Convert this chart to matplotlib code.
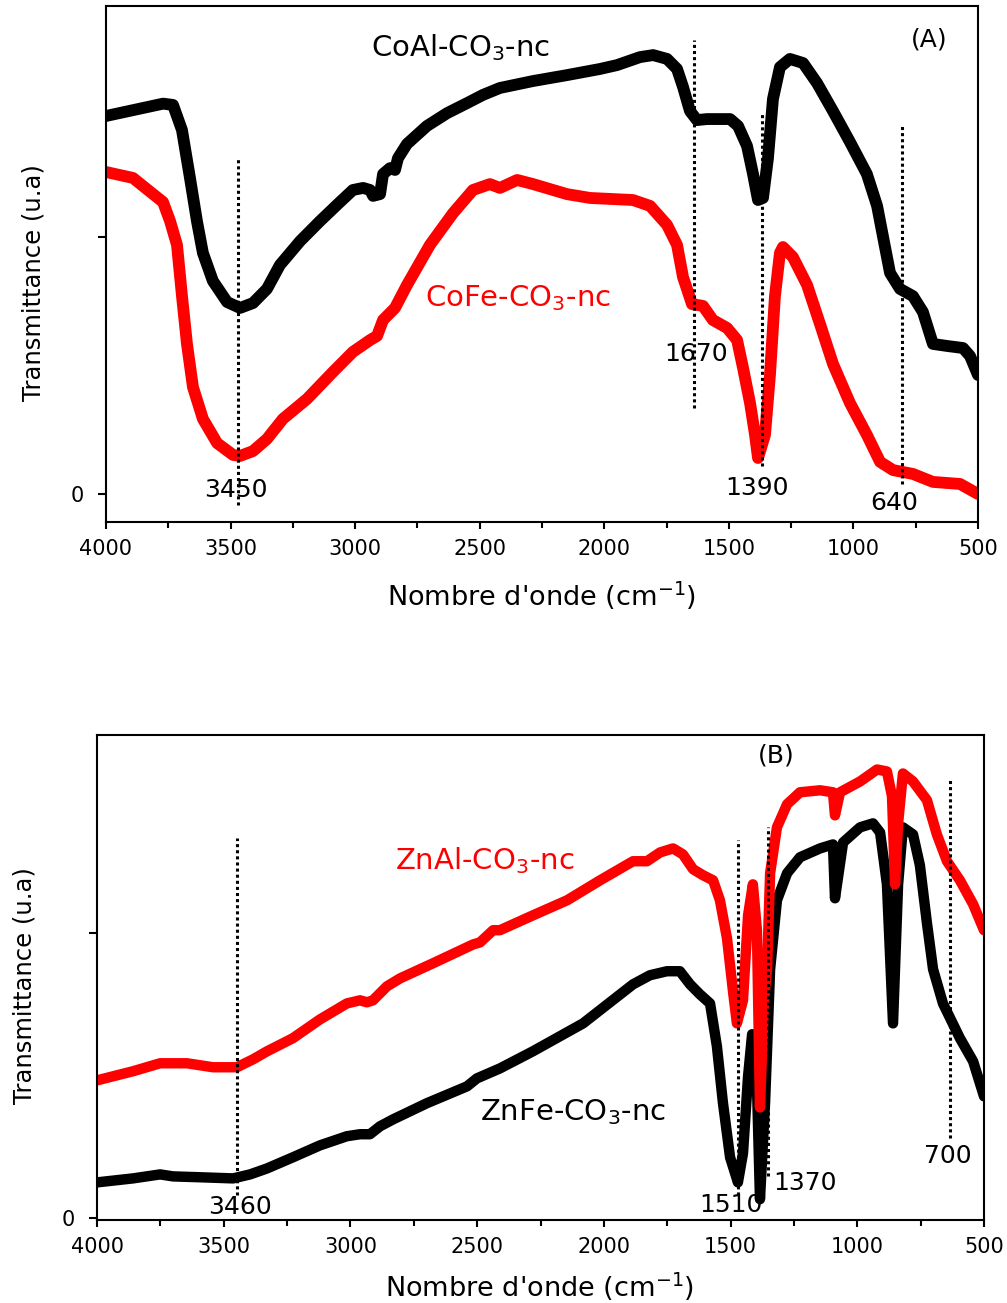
import matplotlib
matplotlib.use("Agg")
import matplotlib.pyplot as plt
from matplotlib.ticker import MultipleLocator, FixedLocator

# ---------------- data: panel A ----------------
coal_wn = [4000, 3771, 3731, 3695, 3663, 3635, 3611, 3571, 3514, 3462, 3410, 3354, 3302,
           3221, 3141, 3061, 3009, 2968, 2940, 2928, 2900, 2888, 2860, 2840, 2828, 2792,
           2712, 2631, 2551, 2487, 2419, 2286, 2150, 2017, 1949, 1857, 1804, 1748, 1708,
           1684, 1656, 1628, 1588, 1495, 1463, 1427, 1403, 1383, 1363, 1343, 1323, 1295,
           1255, 1202, 1146, 1082, 1014, 946, 905, 881, 853, 813, 761, 721, 681, 624, 560,
           532, 500]
coal_t = [1.471, 1.519, 1.514, 1.416, 1.230, 1.062, 0.938, 0.829, 0.747, 0.724, 0.743, 0.798,
          0.891, 0.984, 1.062, 1.136, 1.183, 1.191, 1.183, 1.160, 1.167, 1.245, 1.268, 1.261,
          1.307, 1.362, 1.432, 1.482, 1.521, 1.553, 1.580, 1.607, 1.630, 1.654, 1.669, 1.700,
          1.708, 1.693, 1.654, 1.584, 1.490, 1.455, 1.459, 1.459, 1.432, 1.354, 1.245, 1.144,
          1.152, 1.307, 1.537, 1.661, 1.693, 1.677, 1.599, 1.490, 1.370, 1.245, 1.121, 1.000,
          0.860, 0.798, 0.770, 0.708, 0.584, 0.576, 0.568, 0.537, 0.463]

cofe_wn = [4000, 3892, 3811, 3771, 3743, 3715, 3695, 3675, 3651, 3611, 3554, 3490, 3462,
           3410, 3354, 3290, 3193, 3089, 3009, 2940, 2912, 2888, 2840, 2792, 2700, 2607,
           2527, 2459, 2419, 2350, 2286, 2150, 2057, 1885, 1816, 1748, 1708, 1684, 1648,
           1604, 1564, 1507, 1467, 1443, 1415, 1395, 1383, 1355, 1335, 1315, 1295, 1283,
           1243, 1186, 1134, 1082, 1014, 946, 893, 841, 761, 681, 572, 500]
cofe_t = [1.253, 1.230, 1.167, 1.136, 1.062, 0.969, 0.770, 0.584, 0.416, 0.292, 0.198, 0.152,
          0.148, 0.167, 0.214, 0.292, 0.370, 0.475, 0.553, 0.599, 0.615, 0.677, 0.724, 0.813,
          0.969, 1.093, 1.183, 1.206, 1.191, 1.222, 1.206, 1.167, 1.152, 1.144, 1.121, 1.047,
          0.969, 0.844, 0.739, 0.732, 0.677, 0.646, 0.599, 0.490, 0.354, 0.230, 0.140, 0.230,
          0.463, 0.770, 0.938, 0.961, 0.922, 0.813, 0.661, 0.506, 0.354, 0.230, 0.125, 0.093,
          0.078, 0.047, 0.039, 0.000]

# dotted marker lines A: (wavenumber, ymin, ymax)
A_vlines = [(3470, -0.043, 1.311), (1640, 0.335, 1.767), (1367, 0.110, 1.486), (805, 0.040, 1.440)]

# ---------------- data: panel B ----------------
znal_wn = [4000, 3858, 3751, 3645, 3542, 3448, 3384, 3329, 3227, 3120, 3014, 2962, 2935, 2911,
           2856, 2804, 2674, 2516, 2489, 2437, 2410, 2280, 2145, 2015, 1885, 1830, 1778, 1727,
           1688, 1648, 1609, 1569, 1542, 1514, 1490, 1475, 1451, 1431, 1412, 1396, 1384, 1368,
           1356, 1344, 1317, 1277, 1226, 1147, 1096, 1088, 1068, 989, 922, 883, 863, 851, 839,
           820, 780, 725, 686, 646, 595, 543, 500]
znal_t = [0.484, 0.516, 0.544, 0.544, 0.530, 0.530, 0.558, 0.586, 0.632, 0.698, 0.754, 0.765,
          0.758, 0.765, 0.814, 0.842, 0.895, 0.961, 0.968, 1.011, 1.011, 1.063, 1.116, 1.186,
          1.253, 1.253, 1.284, 1.298, 1.277, 1.225, 1.204, 1.186, 1.116, 0.982, 0.793, 0.684,
          0.765, 1.063, 1.172, 1.011, 0.389, 0.765, 0.874, 1.211, 1.372, 1.453, 1.495, 1.502,
          1.495, 1.414, 1.495, 1.533, 1.575, 1.568, 1.481, 1.172, 1.386, 1.561, 1.533, 1.467,
          1.347, 1.253, 1.186, 1.102, 1.011]

znfe_wn = [4000, 3858, 3751, 3700, 3594, 3463, 3396, 3329, 3227, 3120, 3014, 2962, 2923, 2883,
           2832, 2698, 2540, 2501, 2410, 2280, 2082, 1885, 1818, 1751, 1700, 1660, 1621, 1581,
           1554, 1530, 1502, 1471, 1451, 1431, 1415, 1396, 1384, 1364, 1344, 1317, 1277, 1226,
           1147, 1096, 1088, 1056, 989, 938, 910, 883, 859, 839, 820, 780, 753, 725, 701, 662,
           595, 543, 500]
znfe_t = [0.126, 0.140, 0.154, 0.147, 0.144, 0.140, 0.154, 0.175, 0.214, 0.256, 0.288, 0.295,
          0.295, 0.323, 0.347, 0.404, 0.463, 0.491, 0.526, 0.586, 0.684, 0.821, 0.853, 0.867,
          0.867, 0.821, 0.786, 0.754, 0.604, 0.404, 0.214, 0.126, 0.228, 0.498, 0.646, 0.470,
          0.067, 0.404, 0.874, 1.116, 1.211, 1.267, 1.298, 1.312, 1.123, 1.319, 1.372, 1.386,
          1.354, 1.172, 0.684, 1.172, 1.372, 1.347, 1.239, 1.035, 0.874, 0.754, 0.632, 0.551,
          0.428]

B_vlines = [(3448, 0.081, 1.333), (1471, 0.081, 1.326), (1352, 0.147, 1.372), (634, 0.281, 1.540)]

xticks_major = [4000, 3500, 3000, 2500, 2000, 1500, 1000, 500]

# ---------------- figure ----------------
W, H = 1007, 1303
fig = plt.figure(figsize=(W / 100, H / 100), dpi=100)
plt.rcParams['font.family'] = ['DejaVu Sans']


def fx(px):
    return px / W


def fy(py):
    return 1 - py / H


def style_axes(ax, ylim, ytick_pos):
    ax.set_xlim(4000, 500)
    ax.set_ylim(*ylim)
    ax.xaxis.set_major_locator(FixedLocator(xticks_major))
    ax.xaxis.set_minor_locator(MultipleLocator(250))
    ax.set_yticks(ytick_pos)
    ax.set_yticklabels(['0', ''])
    for s in ax.spines.values():
        s.set_linewidth(1.5)
    ax.tick_params(axis='x', which='major', direction='out', length=5, width=1.5,
                   labelsize=15, pad=7, top=False)
    ax.tick_params(axis='x', which='minor', direction='out', length=4, width=1.5, top=False)
    ax.tick_params(axis='y', which='major', direction='out', length=6, width=1.5,
                   labelsize=15, pad=10, right=False)


# Panel A
axA = fig.add_axes([fx(106), fy(522), fx(978) - fx(106), fy(6) - fy(522)])
axA.plot(coal_wn, coal_t, color='black', lw=8.5, solid_joinstyle='round', solid_capstyle='round')
axA.plot(cofe_wn, cofe_t, color='#ff0000', lw=8.5, solid_joinstyle='round', solid_capstyle='round')
for x, y0, y1 in A_vlines:
    axA.plot([x, x], [y0, y1], color='black', lw=2.2, ls=(0, (1, 1)))
style_axes(axA, (-0.109, 1.899), [0, 1])

# Panel B
axB = fig.add_axes([fx(97), fy(1220), fx(984) - fx(97), fy(735) - fy(1220)])
axB.plot(znfe_wn, znfe_t, color='black', lw=7.5, solid_joinstyle='round', solid_capstyle='round')
axB.plot(znal_wn, znal_t, color='#ff0000', lw=7.5, solid_joinstyle='round', solid_capstyle='round')
for x, y0, y1 in B_vlines:
    axB.plot([x, x], [y0, y1], color='black', lw=2.2, ls=(0, (1, 1)))
style_axes(axB, (-0.006, 1.696), [0, 1])

# ---------------- texts ----------------
def t(px, py, s, size, color='black', **kw):
    fig.text(fx(px), fy(py), s, fontsize=size, color=color, ha='center', va='center', **kw)

# axis labels
t(542, 596, "Nombre d'onde (cm$^{-1}$)", 19.5)
t(540, 1287, "Nombre d'onde (cm$^{-1}$)", 19.5)
t(34, 283, "Transmittance (u.a)", 17.5, rotation=90)
t(25, 986, "Transmittance (u.a)", 17.5, rotation=90)

# panel A annotations
t(461, 48, "CoAl-CO$_3$-nc", 21)
t(518, 298, "CoFe-CO$_3$-nc", 21, color='#ff0000')
t(929, 40, "(A)", 18)
t(236, 490, "3450", 18)
t(696, 354, "1670", 18)
t(757, 488, "1390", 18)
t(894, 503, "640", 18)

# panel B annotations
t(485, 861, "ZnAl-CO$_3$-nc", 21, color='#ff0000')
t(573, 1112, "ZnFe-CO$_3$-nc", 21)
t(776, 755, "(B)", 18)
t(240, 1207, "3460", 18)
t(731, 1205, "1510", 18)
t(805, 1183, "1370", 18)
t(948, 1156, "700", 18)

fig.savefig("out.png", dpi=100)
